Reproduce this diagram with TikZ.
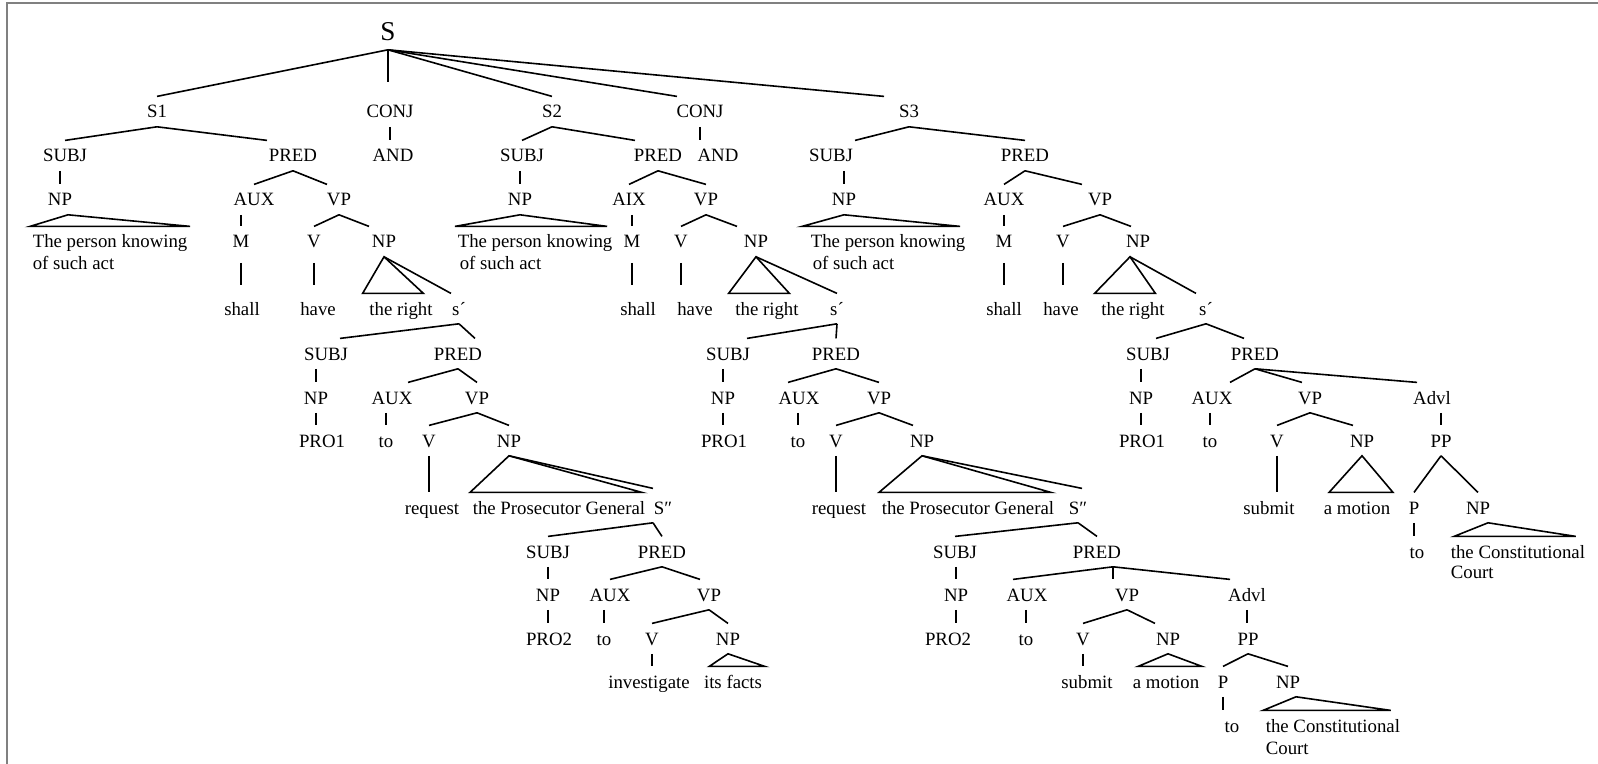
\documentclass[tikz,border=0pt]{standalone}
\usepackage{fontspec}
\setmainfont{Liberation Serif}
\usepackage{tikz}

\tikzset{
    lbl/.style={anchor=base, inner xsep=1pt, inner ysep=4pt, text height=6.4pt, text depth=0pt,
                font=\fontsize{9.4}{11}\selectfont},
    lblw/.style={lbl, anchor=base west},
    vline/.style={shorten <=3pt, shorten >=4pt}
}

\begin{document}
\begin{tikzpicture}[x=0.5pt, y=-0.5pt, line width=0.8pt]
    \useasboundingbox (0,0) rectangle (1598,764);

    % Frame (only top and left edge visible)
    \draw[gray, line width=1pt] (7,764) -- (7,3) -- (1598,3);

    % Root
    \node[lbl, font=\fontsize{13.6}{16}\selectfont, text height=9.2pt] (s) at (388,41) {S};

    % Level 1
    \node[lbl] (sA) at (157,118) {S1};
    \node[lbl] (conjA) at (390,118) {CONJ};
    \node[lbl] (sB) at (552,118) {S2};
    \node[lbl] (conjB) at (700,118) {CONJ};
    \node[lbl] (sC) at (909,118) {S3};

    % First clause S1
    \node[lbl] (subjA) at (65,162) {SUBJ};
    \node[lbl] (predA) at (293,162) {PRED};
    \node[lbl] (andA) at (393,162) {AND};
    \node[lbl] (npA) at (60,206) {NP};
    \node[lblw] (txtA) at (30,248) {The person knowing};
    \node[lblw] (txtAb) at (30,270) {of such act};
    \node[lbl] (auxA) at (254,206) {AUX};
    \node[lbl] (vpA) at (339,206) {VP};
    \node[lbl] (mA) at (241,248) {M};
    \node[lbl] (vA) at (314,248) {V};
    \node[lbl] (npA2) at (384,248) {NP};
    \node[lbl] (shallA) at (242,315) {shall};
    \node[lbl] (haveA) at (318,315) {have};
    \node[lbl] (rightA) at (401,315) {the right};
    \node[lbl] (sbarA) at (459,315) {s´};
    \node[lbl] (subjA2) at (326,360) {SUBJ};
    \node[lbl] (predA2) at (458,360) {PRED};
    \node[lbl] (npA3) at (316,404) {NP};
    \node[lbl] (auxA2) at (392,404) {AUX};
    \node[lbl] (vpA2) at (477,404) {VP};
    \node[lbl] (proA) at (322,447) {PRO1};
    \node[lbl] (toA) at (386,447) {to};
    \node[lbl] (vA2) at (429,447) {V};
    \node[lbl] (npA4) at (509,447) {NP};
    \node[lbl] (reqA) at (432,514) {request};
    \node[lblw] (pgA) at (470,514) {the Prosecutor General};
    \node[lbl] (sdA) at (663,514) {S″};
    \node[lbl] (subjA3) at (548,558) {SUBJ};
    \node[lbl] (predA3) at (662,558) {PRED};
    \node[lbl] (npA5) at (548,601) {NP};
    \node[lbl] (auxA3) at (610,601) {AUX};
    \node[lbl] (vpA3) at (709,601) {VP};
    \node[lbl] (proA2) at (549,645) {PRO2};
    \node[lbl] (toA2) at (604,645) {to};
    \node[lbl] (vA3) at (652,645) {V};
    \node[lbl] (npA6) at (728,645) {NP};
    \node[lbl] (invA) at (649,688) {investigate};
    \node[lbl] (factsA) at (733,688) {its facts};

    % Second clause S2
    \node[lbl] (subjB) at (522,162) {SUBJ};
    \node[lbl] (predB) at (658,162) {PRED};
    \node[lbl] (andB) at (718,162) {AND};
    \node[lbl] (npB) at (520,206) {NP};
    \node[lblw] (txtB) at (455,248) {The person knowing};
    \node[lblw] (txtBb) at (457,270) {of such act};
    \node[lbl] (auxB) at (629,206) {AIX};
    \node[lbl] (vpB) at (706,206) {VP};
    \node[lbl] (mB) at (632,248) {M};
    \node[lbl] (vB) at (681,248) {V};
    \node[lbl] (npB2) at (756,248) {NP};
    \node[lbl] (shallB) at (638,315) {shall};
    \node[lbl] (haveB) at (695,315) {have};
    \node[lbl] (rightB) at (767,315) {the right};
    \node[lbl] (sbarB) at (837,315) {s´};
    \node[lbl] (subjB2) at (728,360) {SUBJ};
    \node[lbl] (predB2) at (836,360) {PRED};
    \node[lbl] (npB3) at (723,404) {NP};
    \node[lbl] (auxB2) at (799,404) {AUX};
    \node[lbl] (vpB2) at (879,404) {VP};
    \node[lbl] (proB) at (724,447) {PRO1};
    \node[lbl] (toB) at (798,447) {to};
    \node[lbl] (vB2) at (836,447) {V};
    \node[lbl] (npB4) at (922,447) {NP};
    \node[lbl] (reqB) at (839,514) {request};
    \node[lblw] (pgB) at (879,514) {the Prosecutor General};
    \node[lbl] (sdB) at (1078,514) {S″};
    \node[lbl] (subjB3) at (955,558) {SUBJ};
    \node[lbl] (predB3) at (1097,558) {PRED};
    \node[lbl] (npB5) at (956,601) {NP};
    \node[lbl] (auxB3) at (1027,601) {AUX};
    \node[lbl] (vpB3) at (1127,601) {VP};
    \node[lbl] (advlB) at (1247,601) {Advl};
    \node[lbl] (proB2) at (948,645) {PRO2};
    \node[lbl] (toB2) at (1026,645) {to};
    \node[lbl] (vB3) at (1083,645) {V};
    \node[lbl] (npB6) at (1168,645) {NP};
    \node[lbl] (ppB) at (1248,645) {PP};
    \node[lbl] (submitB) at (1087,688) {submit};
    \node[lbl] (motionB) at (1166,688) {a motion};
    \node[lbl] (pB) at (1223,688) {P};
    \node[lbl] (npB7) at (1288,688) {NP};
    \node[lbl] (toB3) at (1232,732) {to};
    \node[lblw] (constB) at (1263,732) {the Constitutional};
    \node[lblw] (courtB) at (1263,754) {Court};

    % Third clause S3
    \node[lbl] (subjC) at (831,162) {SUBJ};
    \node[lbl] (predC) at (1025,162) {PRED};
    \node[lbl] (npC) at (844,206) {NP};
    \node[lblw] (txtC) at (808,248) {The person knowing};
    \node[lblw] (txtCb) at (810,270) {of such act};
    \node[lbl] (auxC) at (1004,206) {AUX};
    \node[lbl] (vpC) at (1100,206) {VP};
    \node[lbl] (mC) at (1004,248) {M};
    \node[lbl] (vC) at (1063,248) {V};
    \node[lbl] (npC2) at (1138,248) {NP};
    \node[lbl] (shallC) at (1004,315) {shall};
    \node[lbl] (haveC) at (1061,315) {have};
    \node[lbl] (rightC) at (1133,315) {the right};
    \node[lbl] (sbarC) at (1206,315) {s´};
    \node[lbl] (subjC2) at (1148,360) {SUBJ};
    \node[lbl] (predC2) at (1255,360) {PRED};
    \node[lbl] (npC3) at (1141,404) {NP};
    \node[lbl] (auxC2) at (1212,404) {AUX};
    \node[lbl] (vpC2) at (1310,404) {VP};
    \node[lbl] (advlC) at (1432,404) {Advl};
    \node[lbl] (proC) at (1142,447) {PRO1};
    \node[lbl] (toC) at (1210,447) {to};
    \node[lbl] (vC2) at (1277,447) {V};
    \node[lbl] (npC4) at (1362,447) {NP};
    \node[lbl] (ppC) at (1441,447) {PP};
    \node[lbl] (submitC) at (1269,514) {submit};
    \node[lbl] (motionC) at (1357,514) {a motion};
    \node[lbl] (pC) at (1414,514) {P};
    \node[lbl] (npC5) at (1478,514) {NP};
    \node[lbl] (toC2) at (1417,558) {to};
    \node[lblw] (constC) at (1448,558) {the Constitutional};
    \node[lblw] (courtC) at (1448,578) {Court};

    % Root branches
    \draw (s.south) -- (sA.north);
    \draw[shorten >=7pt] (s.south) -- (s.south |- conjA.north);
    \draw (s.south) -- (sB.north);
    \draw (s.south) -- ([xshift=-11.5pt]conjB.north);
    \draw (s.south) -- ([xshift=-12.5pt]sC.north);

    % Branches of S1
    \draw (sA.south) -- (subjA.north);
    \draw (sA.south) -- ([xshift=-13pt]predA.north);
    \draw (conjA.south) -- (conjA.south |- andA.north);
    \draw (npA.north |- subjA.south) -- (npA.north);
    \draw ([xshift=4pt]npA.south) -- (txtA.north west) -- (txtA.north east) -- cycle;
    \draw (predA.south) -- (auxA.north);
    \draw (predA.south) -- ([xshift=-6pt]vpA.north);
    \draw (mA.north |- auxA.south) -- (mA.north);
    \draw (vpA.south) -- (vA.north);
    \draw (vpA.south) -- ([xshift=-7.5pt]npA2.north);
    \draw[vline] (mA.south) -- (mA.south |- shallA.north);
    \draw[vline] (vA.south) -- (vA.south |- haveA.north);
    \draw (npA2.south) -- ([xshift=-2pt]rightA.north west) -- ([xshift=-6pt]rightA.north east) -- cycle;
    \draw (npA2.south) -- ([xshift=-4pt]sbarA.north);
    \draw (sbarA.south) -- ([xshift=7pt]subjA2.north);
    \draw (sbarA.south) -- ([xshift=8.5pt]predA2.north);
    \draw (npA3.north |- subjA2.south) -- (npA3.north);
    \draw (npA3.south) -- (npA3.south |- proA.north);
    \draw (predA2.south) -- ([xshift=8pt]auxA2.north);
    \draw (predA2.south) -- (vpA2.north);
    \draw (toA.north |- auxA2.south) -- (toA.north);
    \draw (vpA2.south) -- (vA2.north);
    \draw (vpA2.south) -- (npA4.north);
    \draw (vA2.south) -- (vA2.south |- reqA.north);
    \draw (npA4.south) -- (pgA.north west) -- ([xshift=-3pt]pgA.north east) -- cycle;
    \draw (npA4.south) -- ([xshift=-5pt,yshift=2pt]sdA.north);
    \draw ([xshift=-5pt]sdA.south) -- (subjA3.north);
    \draw ([xshift=-5pt]sdA.south) -- (predA3.north);
    \draw (npA5.north |- subjA3.south) -- (npA5.north);
    \draw (npA5.south) -- (npA5.south |- proA2.north);
    \draw (predA3.south) -- (auxA3.north);
    \draw (predA3.south) -- ([xshift=-4.5pt]vpA3.north);
    \draw (toA2.north |- auxA3.south) -- (toA2.north);
    \draw (vpA3.south) -- (vA3.north);
    \draw (vpA3.south) -- (npA6.north);
    \draw (vA3.south) -- (vA3.south |- invA.north);
    \draw (npA6.south) -- ([xshift=4pt]factsA.north west) -- (factsA.north east) -- cycle;

    % Branches of S2
    \draw (sB.south) -- (subjB.north);
    \draw (sB.south) -- ([xshift=-11.5pt]predB.north);
    \draw (conjB.south) -- (conjB.south |- andB.north);
    \draw (npB.north |- subjB.south) -- (npB.north);
    \draw (npB.south) -- (txtB.north west) -- ([xshift=-4pt]txtB.north east) -- cycle;
    \draw (predB.south) -- (auxB.north);
    \draw (predB.south) -- (vpB.north);
    \draw (mB.north |- auxB.south) -- (mB.north);
    \draw (vpB.south) -- (vB.north);
    \draw (vpB.south) -- ([xshift=-9.5pt]npB2.north);
    \draw[vline] (mB.south) -- (mB.south |- shallB.north);
    \draw[vline] (vB.south) -- (vB.south |- haveB.north);
    \draw (npB2.south) -- ([xshift=-2pt]rightB.north west) -- ([xshift=-6pt]rightB.north east) -- cycle;
    \draw (npB2.south) -- (sbarB.north);
    \draw (sbarB.south) -- ([xshift=9.5pt]subjB2.north);
    \draw (sbarB.south) -- (predB2.north);
    \draw (npB3.north |- subjB2.south) -- (npB3.north);
    \draw (npB3.south) -- (npB3.south |- proB.north);
    \draw (predB2.south) -- ([xshift=-5.5pt]auxB2.north);
    \draw (predB2.south) -- (vpB2.north);
    \draw (toB.north |- auxB2.south) -- (toB.north);
    \draw (vpB2.south) -- (vB2.north);
    \draw (vpB2.south) -- ([xshift=-4.5pt]npB4.north);
    \draw (vB2.south) -- (vB2.south |- reqB.north);
    \draw (npB4.south) -- (pgB.north west) -- ([xshift=-3pt]pgB.north east) -- cycle;
    \draw (npB4.south) -- ([xshift=2pt,yshift=2pt]sdB.north);
    \draw (sdB.south) -- (subjB3.north);
    \draw (sdB.south) -- (predB3.north);
    \draw (npB5.north |- subjB3.south) -- (npB5.north);
    \draw (npB5.south) -- (npB5.south |- proB2.north);
    \draw ([xshift=8pt]predB3.south) -- ([xshift=-7pt]auxB3.north);
    \draw ([xshift=8pt]predB3.south) -- ([xshift=8pt]predB3.south |- vpB3.north);
    \draw ([xshift=8pt]predB3.south) -- ([xshift=-8.5pt]advlB.north);
    \draw (toB2.north |- auxB3.south) -- (toB2.north);
    \draw (vpB3.south) -- (vB3.north);
    \draw (vpB3.south) -- ([xshift=-6.5pt]npB6.north);
    \draw (vB3.south) -- (vB3.south |- submitB.north);
    \draw (npB6.south) -- ([xshift=4pt]motionB.north west) -- (motionB.north east) -- cycle;
    \draw (advlB.south) -- (advlB.south |- ppB.north);
    \draw (ppB.south) -- (pB.north);
    \draw (ppB.south) -- (npB7.north);
    \draw (pB.south) -- (pB.south |- toB3.north);
    \draw ([xshift=4pt]npB7.south) -- (constB.north west) -- ([xshift=-6pt]constB.north east) -- cycle;

    % Branches of S3
    \draw (sC.south) -- ([xshift=12pt]subjC.north);
    \draw (sC.south) -- (predC.north);
    \draw (npC.north |- subjC.south) -- (npC.north);
    \draw (npC.south) -- ([xshift=-3pt]txtC.north west) -- ([xshift=-4pt]txtC.north east) -- cycle;
    \draw (predC.south) -- (auxC.north);
    \draw (predC.south) -- ([xshift=-9pt]vpC.north);
    \draw (mC.north |- auxC.south) -- (mC.north);
    \draw (vpC.south) -- (vC.north);
    \draw (vpC.south) -- ([xshift=-3.5pt]npC2.north);
    \draw[vline] (mC.south) -- (mC.south |- shallC.north);
    \draw[vline] (vC.south) -- (vC.south |- haveC.north);
    \draw ([xshift=-4pt]npC2.south) -- ([xshift=-2pt]rightC.north west) -- ([xshift=-6pt]rightC.north east) -- cycle;
    \draw ([xshift=-4pt]npC2.south) -- ([xshift=-5pt]sbarC.north);
    \draw (sbarC.south) -- ([xshift=4pt]subjC2.north);
    \draw (sbarC.south) -- ([xshift=-5.5pt]predC2.north);
    \draw (npC3.north |- subjC2.south) -- (npC3.north);
    \draw (npC3.south) -- (npC3.south |- proC.north);
    \draw (predC2.south) -- ([xshift=9pt]auxC2.north);
    \draw (predC2.south) -- ([xshift=-4pt]vpC2.north);
    \draw (predC2.south) -- ([xshift=-7.5pt]advlC.north);
    \draw (toC.north |- auxC2.south) -- (toC.north);
    \draw (vpC2.south) -- (vC2.north);
    \draw (vpC2.south) -- ([xshift=-4.5pt]npC4.north);
    \draw (vC2.south) -- (vC2.south |- submitC.north);
    \draw (npC4.south) -- ([xshift=4pt]motionC.north west) -- (motionC.north east) -- cycle;
    \draw (ppC.north |- advlC.south) -- (ppC.north);
    \draw (ppC.south) -- (pC.north);
    \draw (ppC.south) -- (npC5.north);
    \draw (pC.south) -- (pC.south |- toC2.north);
    \draw ([xshift=5pt]npC5.south) -- ([xshift=3pt]constC.north west) -- ([xshift=-6pt]constC.north east) -- cycle;
\end{tikzpicture}
\end{document}
